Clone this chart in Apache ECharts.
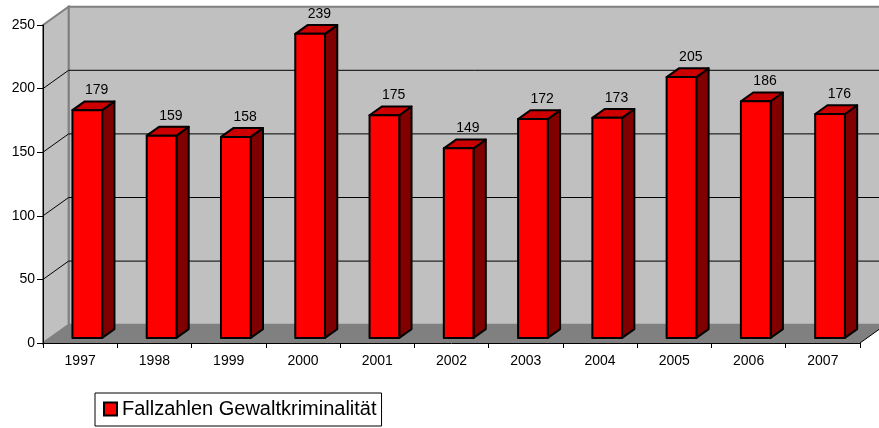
<!DOCTYPE html>
<html>
<head>
<meta charset="utf-8">
<script src="https://cdn.jsdelivr.net/npm/echarts@6/dist/echarts.min.js"></script>
<style>
html, body { margin: 0; padding: 0; background: #fff; }
#container { width: 879px; height: 428px; }
</style>
</head>
<body>
<div id="container"></div>
<script>
var years = ['1997', '1998', '1999', '2000', '2001', '2002', '2003', '2004', '2005', '2006', '2007'];
var cases = [179, 159, 158, 239, 175, 149, 172, 173, 205, 186, 176];
var yTicks = [0, 50, 100, 150, 200, 250];
var seriesName = 'Fallzahlen Gewaltkriminalität';

// fake 3d depth of the plot box, in pixels
var DX = 25.6, DY = -18.3;
var BAR_FRONT = 0.28, BAR_BACK = 0.76, BAR_WIDTH = 0.4;
var FONT = '"Liberation Sans", Arial, sans-serif';

var dom = document.getElementById('container');
var myChart = echarts.init(dom);

var line = function (a, b, color) {
    return {
        type: 'line',
        shape: { x1: a[0], y1: a[1], x2: b[0], y2: b[1] },
        style: { stroke: color, lineWidth: 1 }
    };
};

var renderWalls = function (params, api) {
    var cs = params.coordSys;
    var x0 = cs.x, y0 = cs.y, x1 = cs.x + cs.width, y1 = cs.y + cs.height;
    var children = [];
    // back wall
    children.push({
        type: 'polygon',
        shape: { points: [[x0 + DX, y0 + DY], [x1 + DX, y0 + DY], [x1 + DX, y1 + DY], [x0 + DX, y1 + DY]] },
        style: { fill: '#c0c0c0', stroke: '#808080', lineWidth: 2 }
    });
    // side wall
    children.push({
        type: 'polygon',
        shape: { points: [[x0, y0], [x0 + DX, y0 + DY], [x0 + DX, y1 + DY], [x0, y1]] },
        style: { fill: '#c0c0c0', stroke: '#808080', lineWidth: 2 }
    });
    // floor
    children.push({
        type: 'polygon',
        shape: { points: [[x0, y1], [x1, y1], [x1 + DX, y1 + DY], [x0 + DX, y1 + DY]] },
        style: { fill: '#808080' }
    });
    children.push(line([x1, y1], [x1 + DX, y1 + DY], '#000'));
    yTicks.forEach(function (v) {
        if (v <= yTicks[0] || v >= yTicks[yTicks.length - 1]) return;
        var y = api.coord([0, v])[1];
        children.push(line([x0, y], [x0 + DX, y + DY], '#000'));
        children.push(line([x0 + DX, y + DY], [x1 + DX, y + DY], '#000'));
    });
    return { type: 'group', children: children };
};

var renderBar = function (params, api) {
    var idx = api.value(0), val = api.value(1);
    var top = api.coord([idx, val]);
    var base = api.coord([idx, 0]);
    var w = api.size([1, 0])[0] * BAR_WIDTH;
    var fx = DX * BAR_FRONT, fy = DY * BAR_FRONT;
    var bx = DX * BAR_BACK, by = DY * BAR_BACK;
    var l = top[0] - w / 2, r = top[0] + w / 2;
    var edge = { stroke: '#000', lineWidth: 2, lineJoin: 'round' };
    return {
        type: 'group',
        children: [
            {
                type: 'polygon',
                shape: { points: [[r + fx, top[1] + fy], [r + bx, top[1] + by], [r + bx, base[1] + by], [r + fx, base[1] + fy]] },
                style: Object.assign({ fill: '#800000' }, edge)
            },
            {
                type: 'polygon',
                shape: { points: [[l + fx, top[1] + fy], [l + bx, top[1] + by], [r + bx, top[1] + by], [r + fx, top[1] + fy]] },
                style: Object.assign({ fill: '#cc0000' }, edge)
            },
            {
                type: 'polygon',
                shape: { points: [[l + fx, top[1] + fy], [r + fx, top[1] + fy], [r + fx, base[1] + fy], [l + fx, base[1] + fy]] },
                style: Object.assign({ fill: '#ff0000' }, edge)
            },
            {
                type: 'text',
                style: {
                    text: String(val),
                    x: top[0] + bx - 3,
                    y: top[1] + by - 4,
                    textAlign: 'center',
                    textVerticalAlign: 'bottom',
                    align: 'center',
                    verticalAlign: 'bottom',
                    font: '14px ' + FONT,
                    fill: '#000'
                }
            }
        ]
    };
};

var option = {
    animation: false,
    textStyle: { fontFamily: FONT },
    grid: { left: 43, top: 25, width: 817, height: 318 },
    legend: {
        data: [{
            name: seriesName,
            icon: 'rect',
            itemStyle: { color: '#ff0000', borderColor: '#000', borderWidth: 2 }
        }],
        left: 95,
        top: 393,
        padding: [6, 5, 7, 8],
        itemWidth: 13,
        itemHeight: 13,
        borderColor: '#000',
        borderWidth: 1,
        borderRadius: 0,
        selectedMode: false,
        textStyle: { fontSize: 20, color: '#000', fontFamily: FONT }
    },
    xAxis: {
        type: 'category',
        data: years,
        z: 10,
        axisLine: { lineStyle: { color: '#000', width: 1 } },
        axisTick: { show: true, length: 5, lineStyle: { color: '#000' } },
        axisLabel: { color: '#000', fontSize: 14, margin: 11, fontFamily: FONT },
        splitLine: { show: false }
    },
    yAxis: {
        type: 'value',
        min: yTicks[0],
        max: yTicks[yTicks.length - 1],
        interval: yTicks[1] - yTicks[0],
        z: 10,
        axisLine: { show: true, lineStyle: { color: '#000', width: 1 } },
        axisTick: { show: true, length: 6, lineStyle: { color: '#000' } },
        axisLabel: { color: '#000', fontSize: 14, margin: 8, fontFamily: FONT },
        splitLine: { show: false }
    },
    series: [
        {
            type: 'custom',
            name: 'walls',
            z: 1,
            silent: true,
            renderItem: renderWalls,
            data: [[0, yTicks[0]]]
        },
        {
            type: 'custom',
            name: seriesName,
            z: 3,
            itemStyle: { color: '#ff0000' },
            renderItem: renderBar,
            encode: { x: 0, y: 1 },
            data: cases.map(function (v, i) { return [i, v]; })
        }
    ]
};
myChart.setOption(option, true);
</script>
</body>
</html>
